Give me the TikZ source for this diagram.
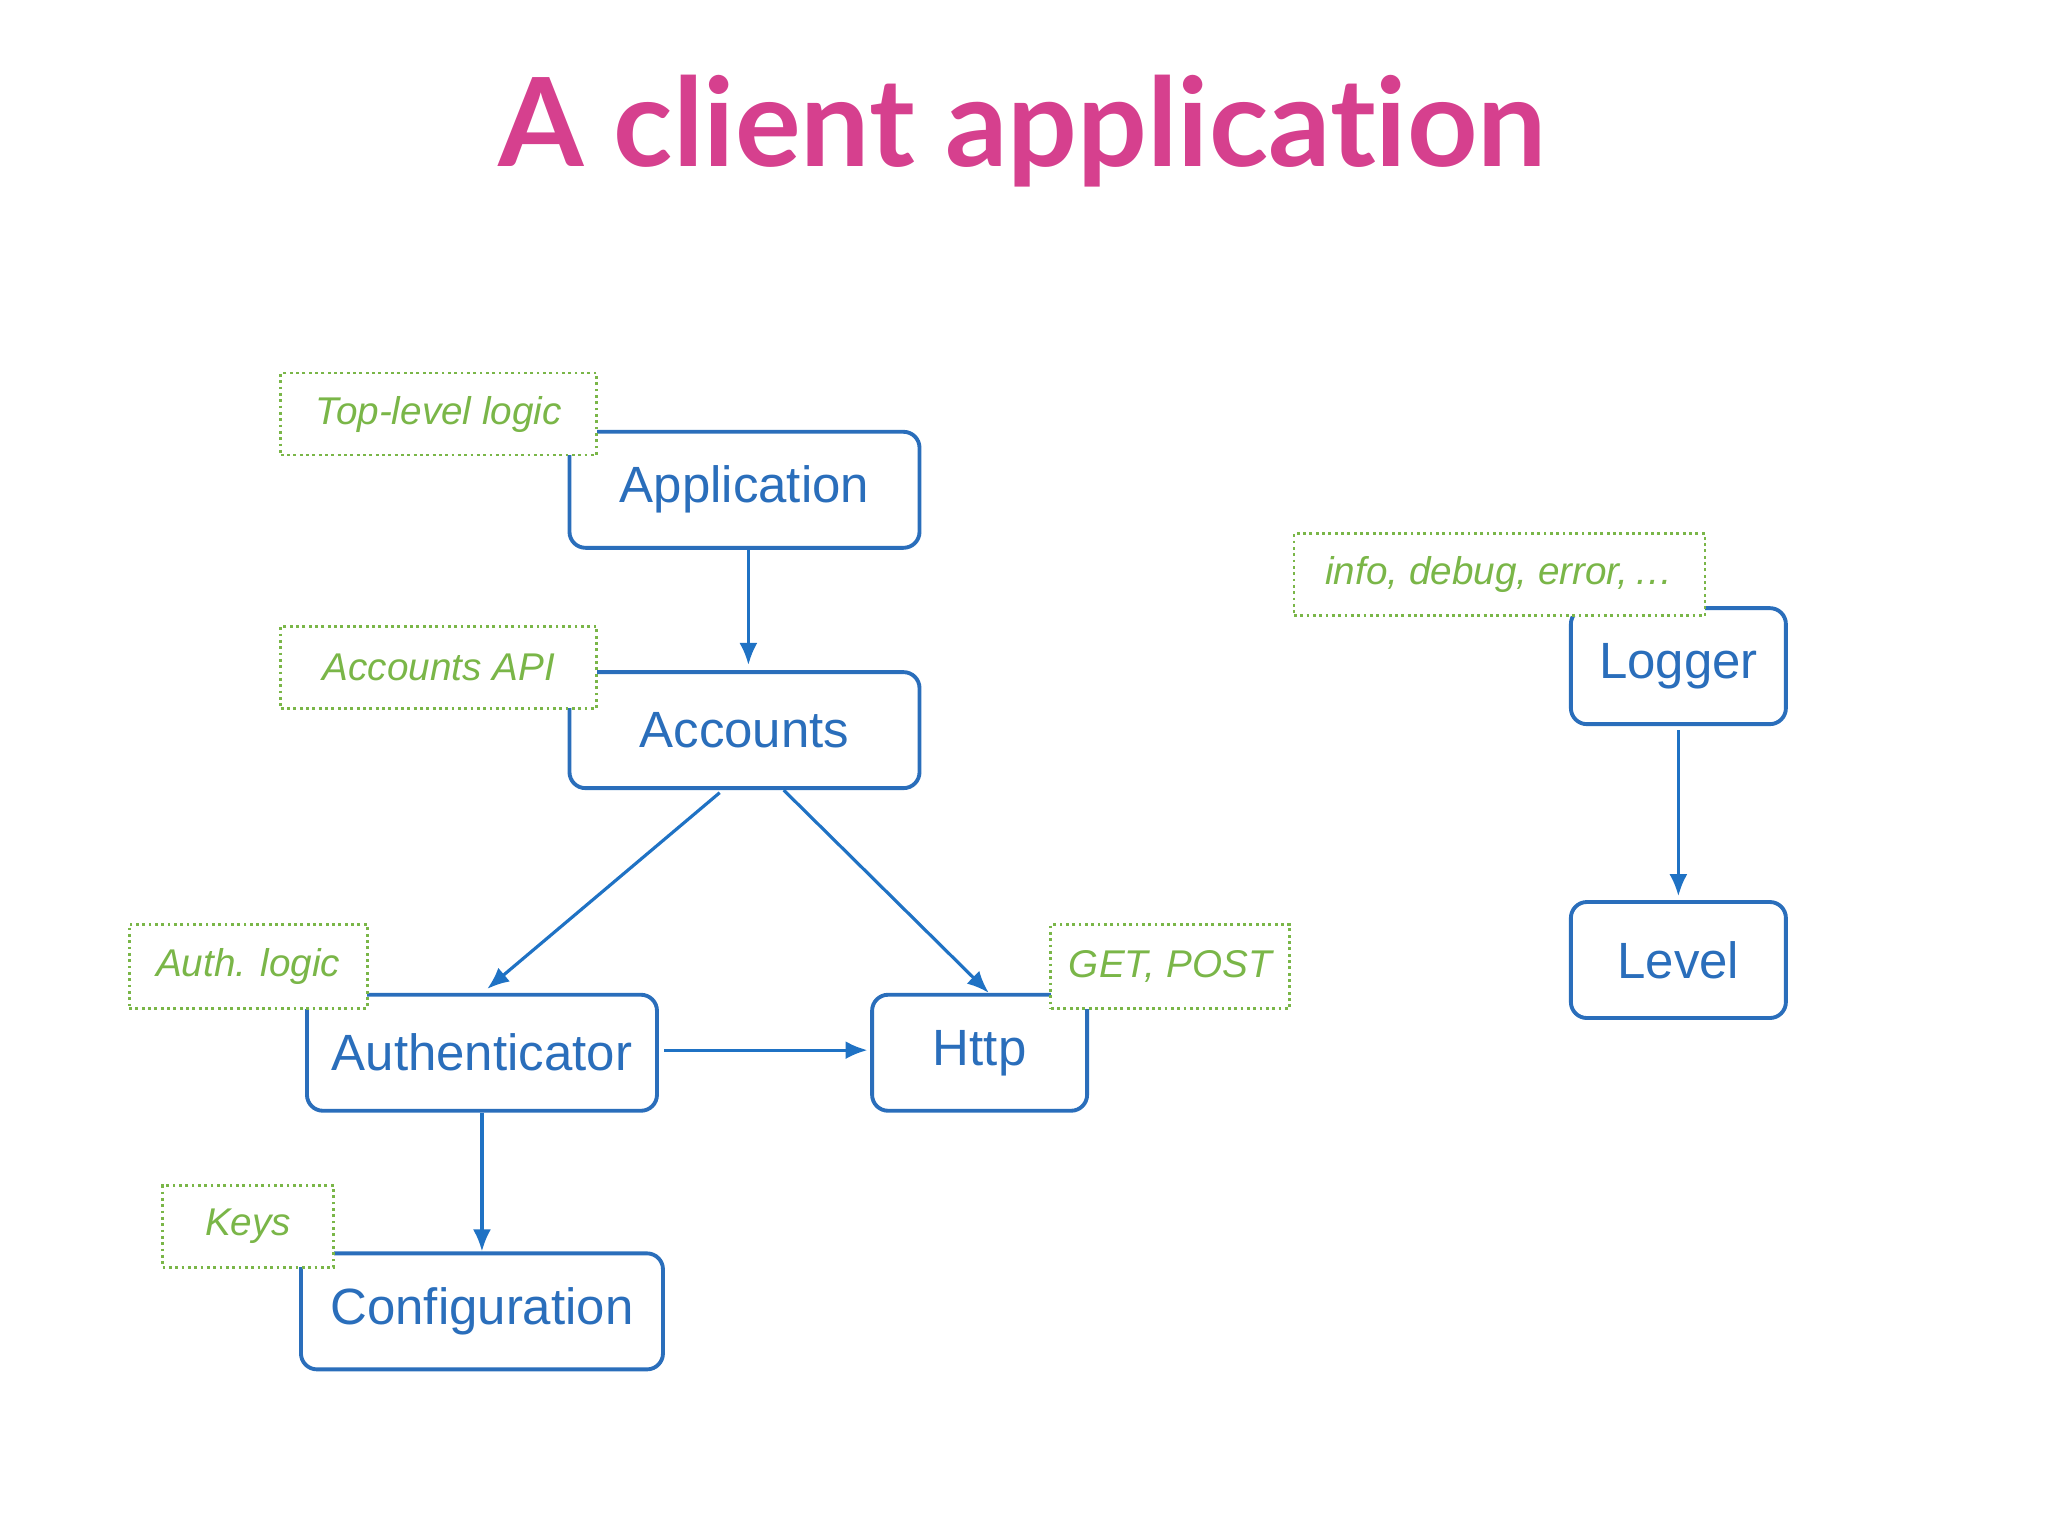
\documentclass[tikz,border=0pt]{standalone}
\usepackage{fontspec}
\setmainfont{Liberation Sans}
\newfontfamily\titlefont[Ligatures=NoCommon]{Lato}
\usetikzlibrary{calc,positioning,arrows.meta}
\definecolor{boxblue}{HTML}{2A6EBB}
\definecolor{arrblue}{HTML}{1F72C4}
\definecolor{notegreen}{HTML}{7AB648}
\definecolor{titlepink}{HTML}{D6408E}
\begin{document}
\begin{tikzpicture}[x=0.1306mm, y=-0.1306mm,
  comp/.style={draw=boxblue, line width=1.1pt, rounded corners=1.6mm, fill=white,
    text=boxblue, font=\fontsize{14.5}{17}\selectfont, inner sep=0pt},
  note/.style={draw=notegreen, densely dotted, line width=0.8pt, fill=white,
    text=notegreen, font=\fontsize{11}{13}\selectfont\itshape, inner sep=0pt},
  link/.style={draw=arrblue, line width=0.9pt, -{Latex[length=2.2mm,width=1.8mm]}}]
  \useasboundingbox (0,0) rectangle (1568,1176);

  \node[font=\titlefont\bfseries\fontsize{35}{40}\selectfont, text=titlepink] (title) at (783,100) {A client application};

  % components
  \node[comp, minimum width=35mm, minimum height=11.6mm] (app) at (570,375) {\raisebox{-0.5mm}{Application}};
  \node[comp, minimum width=35mm, minimum height=11.6mm] (acc) at (570,559) {\raisebox{-0.3mm}{Accounts}};
  \node[comp, minimum width=35mm, minimum height=11.6mm] (auth) at (369,806) {Authenticator};
  \node[comp, minimum width=21.5mm, minimum height=11.6mm] (http) at (750,806) {\raisebox{-0.5mm}{Http}};
  \node[comp, minimum width=36.2mm, minimum height=11.6mm] (conf) at (369,1004) {\raisebox{-0.4mm}{Configuration}};
  \node[comp, minimum width=21.5mm, minimum height=11.6mm] (log) at (1285,510) {\raisebox{-0.5mm}{Logger}};
  \node[comp, minimum width=21.5mm, minimum height=11.6mm] (lvl) at (1285,735) {Level};

  % notes
  \node[note, minimum width=31.6mm, minimum height=8.2mm] (nApp) at (336,317) {\raisebox{-0.3mm}{Top-level logic}};
  \node[note, minimum width=31.6mm, minimum height=8.2mm] (nAcc) at (336,511) {Accounts API};
  \node[note, minimum width=23.8mm, minimum height=8.4mm] (nAuth) at (190,740) {Auth. logic};
  \node[note, minimum width=23.9mm, minimum height=8.4mm] (nHttp) at (896,740) {GET, POST};
  \node[note, minimum width=17.1mm, minimum height=8.2mm] (nConf) at (190,939) {\raisebox{-0.3mm}{Keys}};
  \node[note, minimum width=41.1mm, minimum height=8.2mm] (nLog) at (1148,440) {\raisebox{-0.3mm}{info, debug, error,\,\ldots}};

  % dependencies
  \draw[link] ($(app.south)+(3,0)$) -- ($(acc.north)+(3,-4)$);
  \draw[link] ($(acc.south)+(-19,2)$) -- ($(auth.north)+(4,-3)$);
  \draw[link] ($(acc.south)+(30,0)$) -- ($(http.north)+(7,0)$);
  \draw[link] ($(auth.east)+(4,-2)$) -- ($(http.west)+(-2,-2)$);
  \draw[link] (auth.south) -- (conf.north);
  \draw[link] ($(log.south)+(0,3)$) -- ($(lvl.north)+(0,-3)$);
\end{tikzpicture}
\end{document}
